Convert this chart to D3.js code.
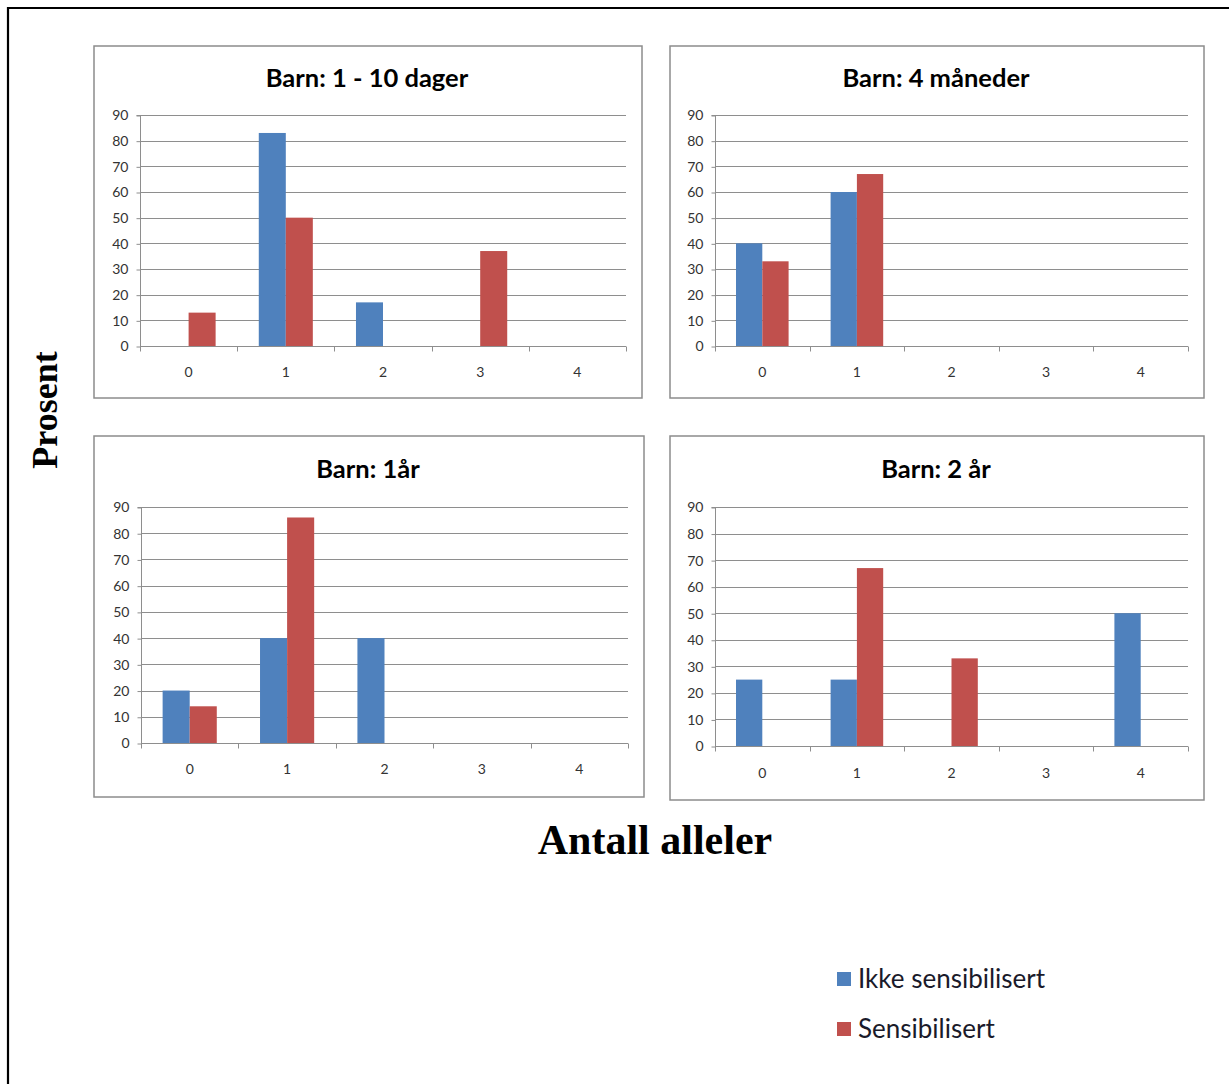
<!DOCTYPE html>
<html>
<head>
<meta charset="utf-8">
<script src="https://cdn.jsdelivr.net/npm/d3@7/dist/d3.min.js"></script>
<style>
  html, body { margin: 0; padding: 0; background: #fff; }
  svg { display: block; }
</style>
</head>
<body>
<svg id="chart" width="1229" height="1084"></svg>
<script>
// Allele counts on the x axis
const categories = ["0", "1", "2", "3", "4"];
// One panel per age group
const panelTitles = ["Barn: 1 - 10 dager", "Barn: 4 måneder", "Barn: 1år", "Barn: 2 år"];
// Percent per allele count, one row per panel
const ikkeSensibilisert = [
  [0, 83, 17, 0, 0],
  [40, 60, 0, 0, 0],
  [20, 40, 40, 0, 0],
  [25, 25, 0, 0, 50]
];
const sensibilisert = [
  [13, 50, 0, 37, 0],
  [33, 67, 0, 0, 0],
  [14, 86, 0, 0, 0],
  [0, 67, 33, 0, 0]
];
const yTicks = [0, 10, 20, 30, 40, 50, 60, 70, 80, 90];
const seriesNames = ["Ikke sensibilisert", "Sensibilisert"];
const seriesColors = ["#4F81BD", "#C0504D"];

const svg = d3.select("#chart");

// Outer page frame (open at the right and bottom edges)
svg.append("path")
  .attr("d", "M8,1090 L8,8 L1235,8")
  .attr("fill", "none")
  .attr("stroke", "#000")
  .attr("stroke-width", 2.2);

// Panel layout: outer box and plot area
const layout = [
  { box: [94, 46, 642, 398], plot: [140, 115, 626, 346], titleY: 87, labelY: 377 },
  { box: [670, 46, 1204, 398], plot: [715, 115, 1188, 346], titleY: 87, labelY: 377 },
  { box: [94, 436, 644, 797], plot: [141, 507, 628, 743], titleY: 478, labelY: 774 },
  { box: [670, 436, 1204, 800], plot: [715, 507, 1188, 746], titleY: 478, labelY: 778 }
];

const uiFont = "Lato, 'Open Sans', sans-serif";

layout.forEach((L, i) => {
  const [bx0, by0, bx1, by1] = L.box;
  const [px0, py0, px1, py1] = L.plot;
  const g = svg.append("g");

  g.append("rect")
    .attr("x", bx0).attr("y", by0)
    .attr("width", bx1 - bx0).attr("height", by1 - by0)
    .attr("fill", "#fff")
    .attr("stroke", "#8c8c8c")
    .attr("stroke-width", 1.5);

  g.append("text")
    .attr("x", (bx0 + bx1) / 2 - 1)
    .attr("y", L.titleY)
    .attr("text-anchor", "middle")
    .attr("font-family", uiFont)
    .attr("font-weight", "bold")
    .attr("font-size", 25.5)
    .attr("fill", "#000")
    .text(panelTitles[i]);

  const x0 = d3.scaleBand().domain(categories).range([px0, px1]).padding(0);
  const bw = x0.bandwidth();
  const x1 = d3.scaleBand().domain(seriesNames).range([bw * 0.222, bw * 0.778]).padding(0);
  const y = d3.scaleLinear().domain([0, 90]).range([py1, py0]);

  // Horizontal gridlines
  g.append("g")
    .selectAll("line")
    .data(yTicks.filter(t => t > 0))
    .join("line")
    .attr("x1", px0).attr("x2", px1)
    .attr("y1", d => Math.round(y(d)) + 0.5).attr("y2", d => Math.round(y(d)) + 0.5)
    .attr("stroke", "#8e8e8e")
    .attr("stroke-width", 1);

  // Y axis with small outward ticks
  const yAxis = d3.axisLeft(y).tickValues(yTicks).tickSize(4).tickPadding(8);
  const ya = g.append("g").attr("transform", `translate(${px0 + 0.5},0.5)`).call(yAxis);
  ya.select(".domain").attr("stroke", "#8e8e8e").attr("d", `M-4,${py0}H0V${py1}`);
  ya.selectAll(".tick line").attr("stroke", "#8e8e8e");
  ya.selectAll(".tick text")
    .attr("font-family", uiFont)
    .attr("font-size", 14)
    .attr("fill", "#333");

  // Bars
  const series = [ikkeSensibilisert[i], sensibilisert[i]];
  seriesNames.forEach((name, s) => {
    g.append("g")
      .selectAll("rect")
      .data(categories.map((c, k) => ({ c, v: series[s][k] })).filter(d => d.v > 0))
      .join("rect")
      .attr("x", d => x0(d.c) + x1(name))
      .attr("y", d => y(d.v))
      .attr("width", x1.bandwidth())
      .attr("height", d => y(0) - y(d.v))
      .attr("fill", seriesColors[s]);
  });

  // X axis line with category separator ticks
  const xa = g.append("g").attr("transform", `translate(0,${Math.round(py1) + 0.5})`);
  xa.append("line")
    .attr("x1", px0).attr("x2", px1)
    .attr("stroke", "#8e8e8e");
  const bounds = categories.map(c => x0(c)).concat([px1]);
  xa.selectAll("line.sep")
    .data(bounds)
    .join("line")
    .attr("class", "sep")
    .attr("x1", d => Math.round(d) + 0.5).attr("x2", d => Math.round(d) + 0.5)
    .attr("y1", 0).attr("y2", 5)
    .attr("stroke", "#8e8e8e");

  g.append("g")
    .selectAll("text")
    .data(categories)
    .join("text")
    .attr("x", d => x0(d) + bw / 2)
    .attr("y", L.labelY)
    .attr("text-anchor", "middle")
    .attr("font-family", uiFont)
    .attr("font-size", 14)
    .attr("fill", "#333")
    .text(d => d);
});

// Shared axis titles
svg.append("text")
  .attr("transform", "translate(57,410) rotate(-90)")
  .attr("text-anchor", "middle")
  .attr("font-family", "'Liberation Serif', 'Times New Roman', serif")
  .attr("font-weight", "bold")
  .attr("font-size", 36)
  .attr("fill", "#000")
  .text("Prosent");

svg.append("text")
  .attr("x", 655)
  .attr("y", 854)
  .attr("text-anchor", "middle")
  .attr("font-family", "'Liberation Serif', 'Times New Roman', serif")
  .attr("font-weight", "bold")
  .attr("font-size", 42)
  .attr("fill", "#000")
  .text("Antall alleler");

// Legend
const legend = svg.append("g");
seriesNames.forEach((name, s) => {
  const ly = 972 + s * 50;
  legend.append("rect")
    .attr("x", 837).attr("y", ly)
    .attr("width", 14).attr("height", 14)
    .attr("fill", seriesColors[s]);
  legend.append("text")
    .attr("x", 858).attr("y", ly + 16)
    .attr("font-family", uiFont)
    .attr("font-size", 26)
    .attr("fill", "#1a1a2a")
    .text(name);
});
</script>
</body>
</html>
